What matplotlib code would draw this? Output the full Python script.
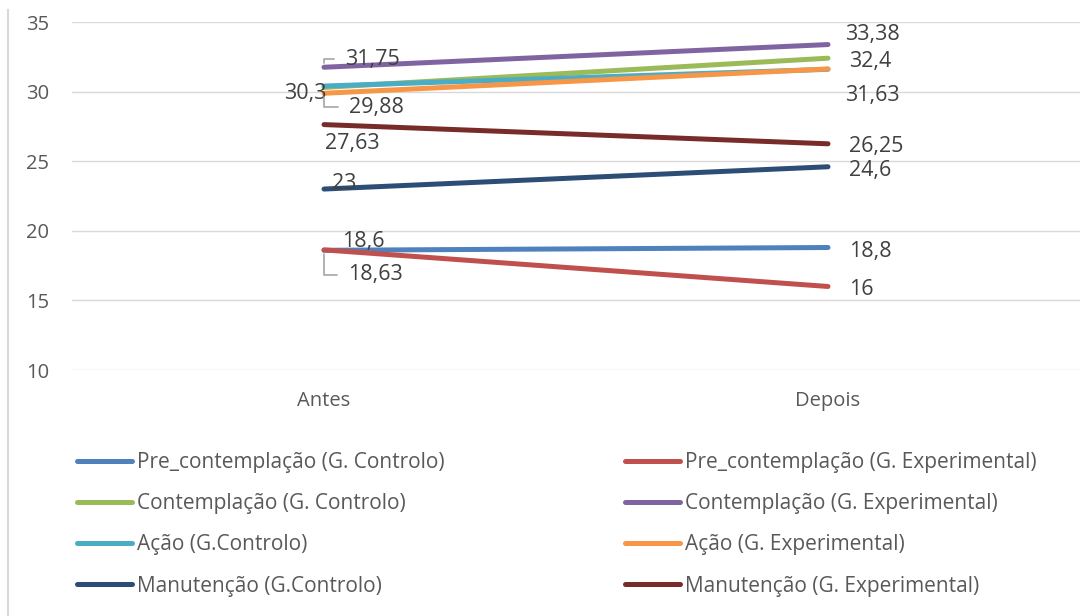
import matplotlib
matplotlib.use("Agg")
from matplotlib import pyplot as plt
from matplotlib.lines import Line2D

plt.rcParams['font.family'] = ['Open Sans', 'DejaVu Sans']

categories = ["Antes", "Depois"]

series_names = [
    "Pre_contemplação (G. Controlo)",
    "Pre_contemplação (G. Experimental)",
    "Contemplação (G. Controlo)",
    "Contemplação (G. Experimental)",
    "Ação (G.Controlo)",
    "Ação (G. Experimental)",
    "Manutenção (G.Controlo)",
    "Manutenção (G. Experimental)",
]
pre_controlo = [18.6, 18.8]
pre_experimental = [18.63, 16]
cont_controlo = [30.3, 32.4]
cont_experimental = [31.75, 33.38]
acao_controlo = [30.4, 31.6]
acao_experimental = [29.88, 31.63]
man_controlo = [23, 24.6]
man_experimental = [27.63, 26.25]

series_values = [pre_controlo, pre_experimental, cont_controlo, cont_experimental,
                 acao_controlo, acao_experimental, man_controlo, man_experimental]
colors = ["#4F81BD", "#C0504D", "#9BBB59", "#8064A2",
          "#4BACC6", "#F79646", "#2C4D75", "#772C2A"]

# data labels: (series index, point index, text, dx px, dy px, ha, leader)
labels = [
    (3, 0, "31,75", 21, 8, "left", True),
    (2, 0, "30,3", 3, -6, "right", False),
    (5, 0, "29,88", 25, -14, "left", True),
    (7, 0, "27,63", 28, -19, "center", False),
    (6, 0, "23", 8, 6, "left", False),
    (0, 0, "18,6", 18, 9, "left", False),
    (1, 0, "18,63", 24, -25, "left", True),
    (3, 1, "33,38", 17, 10, "left", False),
    (2, 1, "32,4", 21, -3, "left", False),
    (5, 1, "31,63", 17, -27, "left", False),
    (7, 1, "26,25", 21, -3, "left", False),
    (6, 1, "24,6", 21, -4, "left", False),
    (0, 1, "18,8", 21, -4, "left", False),
    (1, 1, "16", 21, -3, "left", False),
]

fig = plt.figure(figsize=(10.91, 6.16), dpi=100)
ax = fig.add_axes([72 / 1091, 1 - 370 / 616, 1008 / 1091, 348 / 616])

x = list(range(len(categories)))
handles = []
for name, vals, c in zip(series_names, series_values, colors):
    h, = ax.plot(x, vals, color=c, lw=3.6, solid_capstyle="round", label=name, zorder=3)
    handles.append(h)

ax.set_xlim(-0.5, 1.5)
ax.set_ylim(10, 35)
ax.set_yticks([10, 15, 20, 25, 30, 35])
ax.set_xticks(x)
ax.set_xticklabels(categories)
ax.grid(axis="y", color="#D9D9D9", lw=1)
ax.set_axisbelow(True)
for s in ax.spines.values():
    s.set_visible(False)
ax.tick_params(axis="both", length=0, labelsize=14.5, colors="#595959")
ax.tick_params(axis="y", pad=16.5)
ax.tick_params(axis="x", pad=15)

for si, pi, txt, dx, dy, ha, leader in labels:
    yv = series_values[si][pi]
    kw = {}
    if leader:
        kw["arrowprops"] = dict(arrowstyle="-", color="#A6A6A6", lw=1.2,
                                connectionstyle="angle,angleA=0,angleB=90,rad=0",
                                relpos=(0, 0.5), shrinkA=6, shrinkB=3)
    ax.annotate(txt, xy=(pi, yv), xytext=(dx, dy), textcoords="offset pixels",
                ha=ha, va="center", fontsize=15.5, color="#404040", zorder=4, **kw)

order = [0, 2, 4, 6, 1, 3, 5, 7]
fig.legend([handles[i] for i in order], [series_names[i] for i in order],
           loc="upper left", bbox_to_anchor=(77 / 1091, 1 - 452 / 616), ncol=2,
           frameon=False, fontsize=15, handlelength=2.64, handletextpad=0.24,
           columnspacing=8.65, labelspacing=0.97, labelcolor="#595959",
           borderpad=0, borderaxespad=0)

fig.add_artist(Line2D([8 / 1091, 8 / 1091], [0, 1 - 10 / 616], color="#D9D9D9", lw=1.5))

fig.savefig("out.png", dpi=100)
